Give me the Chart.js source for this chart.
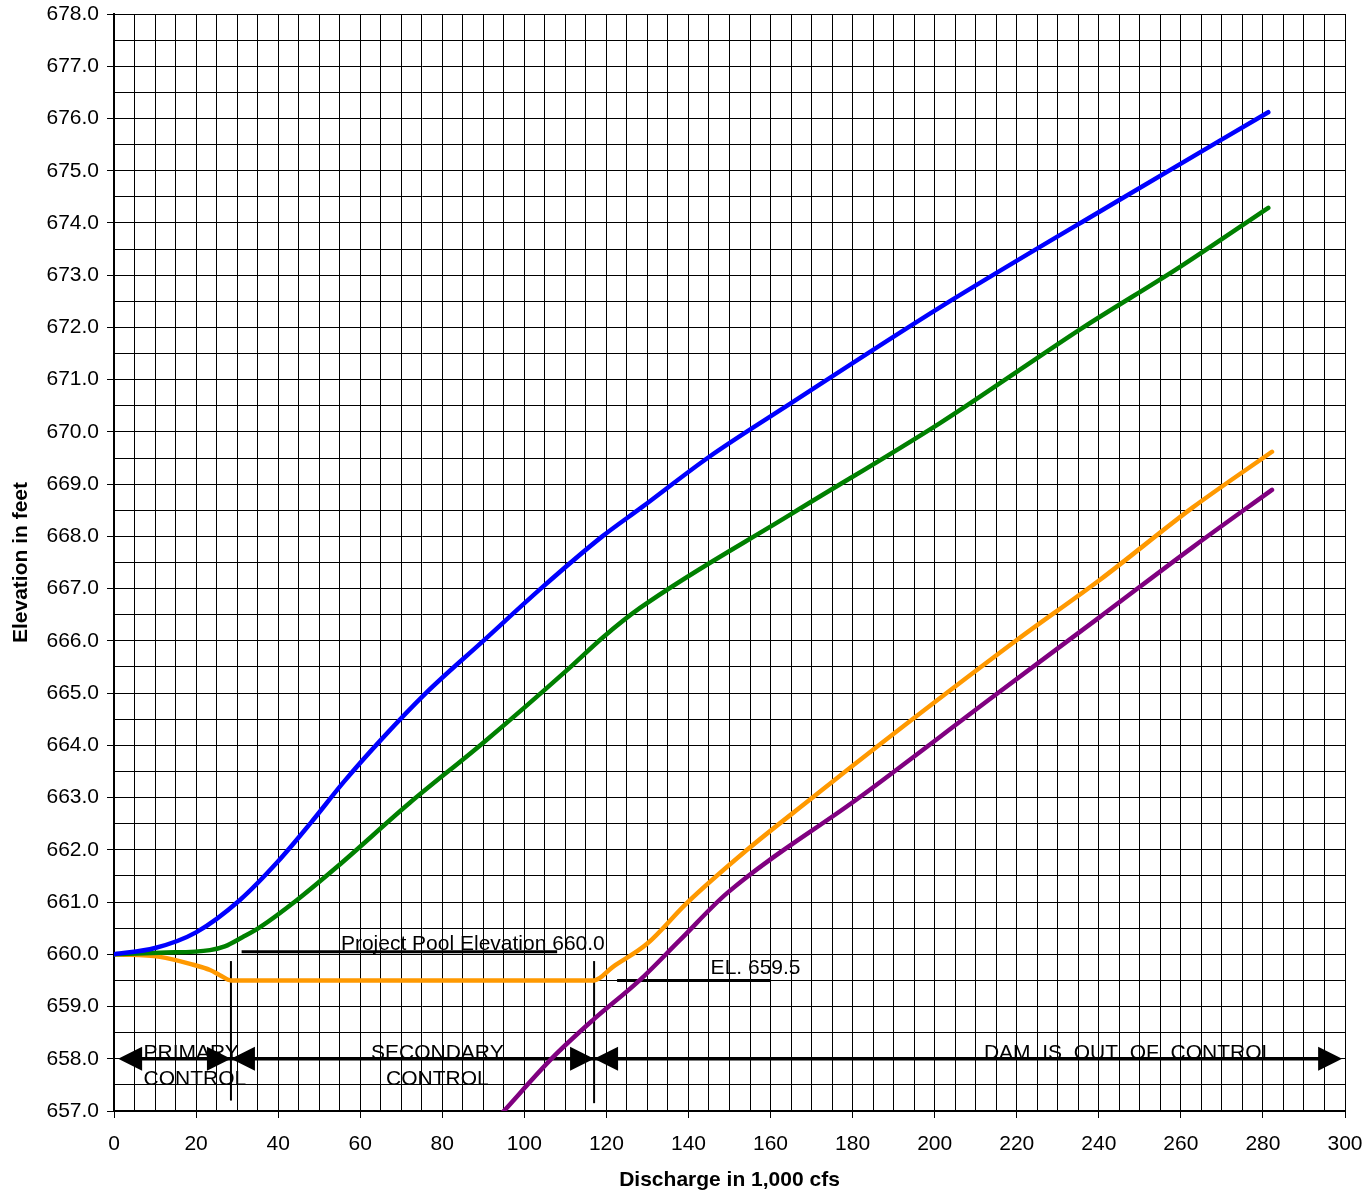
<!DOCTYPE html>
<html><head><meta charset="utf-8">
<script src="https://cdn.jsdelivr.net/npm/chart.js@4.4.1/dist/chart.umd.min.js"></script>
<style>html,body{margin:0;padding:0;background:#fff;}canvas{display:block;}</style>
</head><body>
<canvas id="c" width="1364" height="1194"></canvas>
<script>
// ---- data (discharge in 1,000 cfs, elevation in feet) ----
const blueQ  = [0, 10, 20, 30.7, 40, 48, 56, 65, 76, 90, 104, 119, 128.5, 145, 165, 201, 245, 281.3];
const blueEl = [660.0, 660.12, 660.42, 661.04, 661.78, 662.52, 663.3, 664.1, 665.0, 666.0, 667.0, 668.0, 668.55, 669.52, 670.55, 672.37, 674.44, 676.12];

const greenQ  = [0, 11.2, 23.4, 27, 31.4, 35.6, 44.6, 54.3, 72.1, 90, 110.4, 119.2, 128.2, 165.5, 201.3, 220, 236.2, 259.8, 281.3];
const greenEl = [660.0, 660.03, 660.08, 660.15, 660.33, 660.52, 661.04, 661.67, 662.9, 664.05, 665.44, 666.07, 666.63, 668.45, 670.17, 671.15, 672.0, 673.16, 674.29];

const orangeQ  = [0, 11.2, 19.3, 23.4, 25.8, 28.5, 117, 121.6, 129.9, 139.6, 154.3, 170.4, 181.8, 220.1, 240.3, 263, 282.2];
const orangeEl = [660.0, 659.95, 659.8, 659.7, 659.6, 659.5, 659.5, 659.76, 660.2, 660.98, 662.0, 663.01, 663.72, 666.02, 667.17, 668.56, 669.62];

const purpleQ  = [94.8, 107, 116.7, 128.2, 137.9, 149.4, 181.8, 214.2, 240.3, 263, 282.2];
const purpleEl = [656.98, 658.03, 658.74, 659.51, 660.27, 661.17, 663.01, 664.93, 666.46, 667.8, 668.89];

// axis ticks
const xMin = 0, xMax = 300, xGridStep = 5, xLabelStep = 20;
const yMin = 657, yMax = 678, yGridStep = 0.5, yLabelStep = 1;

// annotations (data units)
const refLineQ   = [[31.1, 108.0], [122.6, 159.9]];
const refLineEl  = [660.05, 659.5];
const dividerQ   = [28.5, 117.0];
const dividerEl  = [[657.2, 659.87], [657.15, 659.87]];
const arrowQ     = [1.0, 299.3];
const arrowEl    = 658.0;
const noteText   = ['Project Pool Elevation 660.0', 'EL. 659.5', 'PRIMARY', 'CONTROL', 'SECONDARY', 'CONTROL', 'DAM  IS  OUT  OF  CONTROL'];
const noteQ      = [55.3, 145.4, 7.2, 7.2, 78.8, 78.8, 212.0];
const noteEl     = [660.08, 659.62, 658.0, 657.49, 658.0, 657.49, 658.0];
const noteAlign  = ['left', 'left', 'left', 'left', 'center', 'center', 'left'];

const FONT = "'Liberation Sans', Arial, sans-serif";
const pts = (xs, ys) => xs.map((v, i) => ({x: v, y: ys[i]}));

const annot = {
  id: 'annot',
  beforeDatasetsDraw(chart) {
    const {ctx, scales: {x, y}} = chart;
    const X = v => x.getPixelForValue(v), Y = v => y.getPixelForValue(v);
    ctx.save();
    ctx.strokeStyle = '#000'; ctx.fillStyle = '#000';
    ctx.lineCap = 'butt';
    ctx.lineWidth = 3;
    refLineQ.forEach((q, i) => {
      ctx.beginPath(); ctx.moveTo(X(q[0]), Y(refLineEl[i])); ctx.lineTo(X(q[1]), Y(refLineEl[i])); ctx.stroke();
    });
    ctx.lineWidth = 3.5;
    ctx.beginPath(); ctx.moveTo(X(arrowQ[0]) + 5, Y(arrowEl)); ctx.lineTo(X(arrowQ[1]) - 5, Y(arrowEl)); ctx.stroke();
    const AL = 24, AH = 12;
    const head = (tx, ty, dir) => {
      ctx.beginPath(); ctx.moveTo(tx, ty); ctx.lineTo(tx - dir * AL, ty - AH); ctx.lineTo(tx - dir * AL, ty + AH); ctx.closePath(); ctx.fill();
    };
    const ay = Y(arrowEl);
    head(X(arrowQ[0]), ay, -1);
    dividerQ.forEach(q => { head(X(q), ay, 1); head(X(q), ay, -1); });
    head(X(arrowQ[1]), ay, 1);
    ctx.lineWidth = 2;
    dividerQ.forEach((q, i) => {
      ctx.beginPath(); ctx.moveTo(X(q), Y(dividerEl[i][0])); ctx.lineTo(X(q), Y(dividerEl[i][1])); ctx.stroke();
    });
    ctx.font = '21px ' + FONT;
    ctx.textBaseline = 'alphabetic';
    noteText.forEach((t, i) => {
      ctx.textAlign = noteAlign[i];
      ctx.fillText(t, X(noteQ[i]), Y(noteEl[i]));
    });
    ctx.restore();
  }
};

const lineDs = (label, xs, ys, color) => ({
  label, data: pts(xs, ys), borderColor: color, backgroundColor: color,
  borderWidth: 4.5, pointRadius: 0, fill: false,
  cubicInterpolationMode: 'monotone', borderCapStyle: 'round', borderJoinStyle: 'round'
});

new Chart(document.getElementById('c'), {
  type: 'line',
  data: {
    datasets: [
      lineDs('Curve 1', blueQ, blueEl, '#0000FF'),
      lineDs('Curve 2', greenQ, greenEl, '#008000'),
      lineDs('Curve 3', orangeQ, orangeEl, '#FF9900'),
      lineDs('Curve 4', purpleQ, purpleEl, '#800080')
    ]
  },
  plugins: [annot],
  options: {
    responsive: false, animation: false, devicePixelRatio: 1,
    layout: {padding: {top: 14, right: 19, left: 0, bottom: 0}},
    plugins: {legend: {display: false}, tooltip: {enabled: false}},
    scales: {
      x: {
        type: 'linear', min: xMin, max: xMax,
        afterFit(s) { s.height = 83; s.paddingLeft = 0; s.paddingRight = 0; },
        ticks: {
          stepSize: xGridStep, autoSkip: false, maxRotation: 0, padding: 14, color: '#000',
          font: {family: FONT, size: 21},
          callback: v => (v % xLabelStep === 0 ? String(v) : '')
        },
        grid: {
          color: '#000', lineWidth: 1, tickLength: 7,
          tickColor: c => (c.tick && c.tick.value % xLabelStep === 0 ? '#000' : 'rgba(0,0,0,0)')
        },
        border: {color: '#000', width: 2},
        title: {display: true, text: 'Discharge in 1,000 cfs', color: '#000',
          font: {family: FONT, size: 21, weight: 'bold'}, padding: {top: 0, bottom: 1}}
      },
      y: {
        type: 'linear', min: yMin, max: yMax,
        afterFit(s) { s.width = 114; s.paddingTop = 0; s.paddingBottom = 0; },
        ticks: {
          stepSize: yGridStep, autoSkip: false, padding: 8, color: '#000',
          font: {family: FONT, size: 21},
          callback: v => (Math.abs(v % yLabelStep) < 1e-9 ? v.toFixed(1) : '')
        },
        grid: {
          color: '#000', lineWidth: 1, tickLength: 7,
          tickColor: c => (c.tick && Math.abs(c.tick.value % yLabelStep) < 1e-9 ? '#000' : 'rgba(0,0,0,0)')
        },
        border: {color: '#000', width: 2},
        title: {display: true, text: 'Elevation in feet', color: '#000',
          font: {family: FONT, size: 21, weight: 'bold'}, padding: {top: 9, bottom: 0}}
      }
    }
  }
});
</script>
</body></html>
